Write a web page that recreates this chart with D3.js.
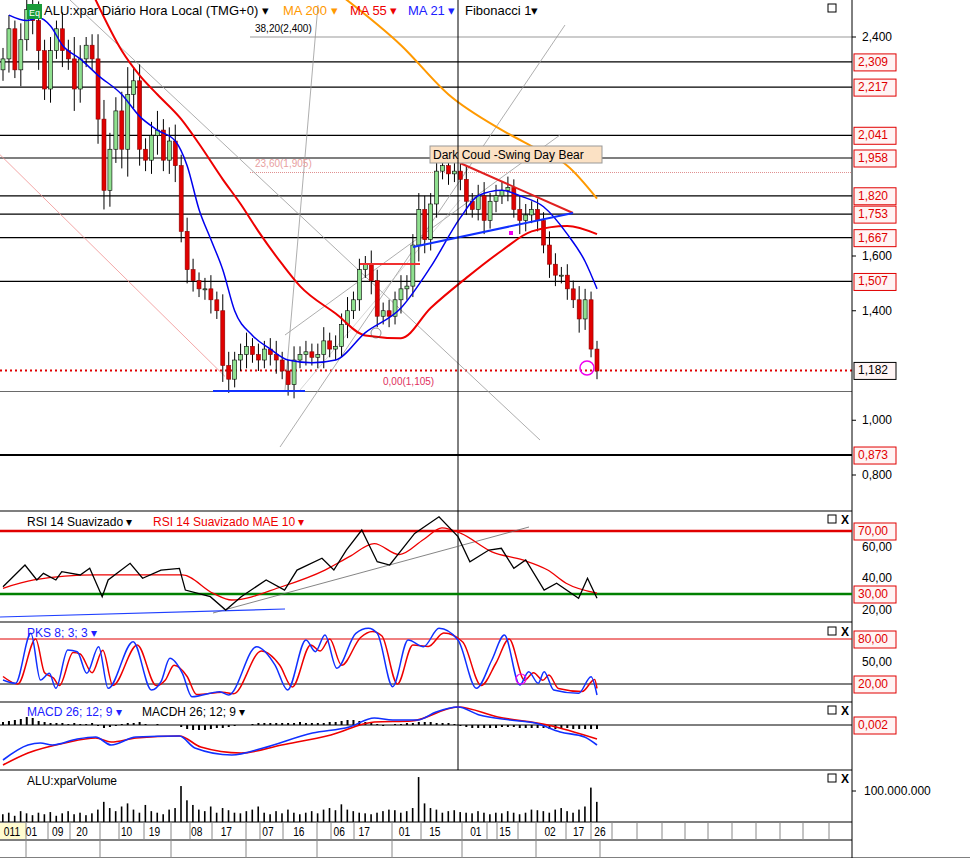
<!DOCTYPE html>
<html><head><meta charset="utf-8">
<script src="https://cdn.jsdelivr.net/npm/d3@7/dist/d3.min.js"></script>
<style>body{margin:0;background:#fff}svg{display:block;font-family:"Liberation Sans",Arial,sans-serif}</style>
</head><body><svg id="c" width="970" height="858"></svg>
<script>
// ---------- DATA ----------
const closes=[2.32,2.43,2.28,2.39,2.50,2.46,2.35,2.21,2.35,2.43,2.35,2.32,2.21,2.32,2.37,2.32,2.10,1.84,1.99,2.13,1.99,2.19,2.24,1.99,1.95,2.04,2.06,1.95,2.02,1.93,1.69,1.55,1.51,1.48,1.48,1.44,1.40,1.20,1.15,1.22,1.24,1.27,1.24,1.22,1.26,1.24,1.22,1.18,1.13,1.22,1.24,1.25,1.23,1.24,1.29,1.26,1.27,1.35,1.40,1.44,1.55,1.57,1.51,1.38,1.40,1.38,1.44,1.48,1.49,1.64,1.77,1.66,1.79,1.91,1.93,1.90,1.91,1.88,1.80,1.77,1.82,1.73,1.80,1.82,1.84,1.85,1.77,1.73,1.75,1.77,1.73,1.64,1.57,1.53,1.53,1.48,1.44,1.37,1.44,1.26,1.18];
const firstOpen=2.28;
const wicks=[0.04,0.05,0.03,0.06,0.04,0.05,0.07,0.04,0.05,0.03,0.06,0.04,0.08,0.05,0.03,0.04,0.09,0.07,0.06,0.05,0.07,0.10,0.05,0.06,0.04,0.05,0.07,0.04,0.05,0.06,0.04,0.05,0.04,0.03,0.04,0.05,0.03,0.06,0.05,0.03,0.04,0.05,0.03,0.04,0.03,0.04,0.05,0.03,0.04,0.05,0.03,0.04,0.03,0.04,0.05,0.03,0.04,0.04,0.05,0.03,0.04,0.03,0.05,0.04,0.03,0.04,0.03,0.05,0.04,0.04,0.06,0.05,0.04,0.05,0.03,0.04,0.03,0.04,0.05,0.03,0.04,0.05,0.03,0.04,0.03,0.04,0.03,0.05,0.04,0.03,0.04,0.03,0.05,0.04,0.03,0.04,0.03,0.05,0.04,0.03,0.03];
const volume=[25,30,20,35,28,22,30,25,32,20,28,35,25,30,22,28,40,65,45,35,50,60,40,30,55,35,30,25,40,45,116,70,55,40,35,50,30,45,38,30,28,35,40,50,30,25,35,28,40,30,25,30,35,28,40,45,38,57,40,35,30,28,25,30,35,40,38,30,35,45,145,60,45,40,30,35,38,32,30,28,35,30,25,30,28,35,30,25,30,40,38,35,30,40,45,35,30,40,50,111,65];
const ma21=[[1,2.48],[4,2.46],[6,2.47],[8,2.44],[10,2.37],[13,2.32],[16,2.26],[20,2.19],[23,2.11],[26,2.06],[29,2.02],[31,1.93],[33,1.77],[35,1.66],[37,1.55],[39,1.40],[42,1.31],[45,1.26],[48,1.22],[52,1.21],[56,1.22],[61,1.32],[67,1.41],[72,1.56],[77,1.74],[80,1.82],[84,1.84],[87,1.82],[91,1.78],[95,1.68],[98,1.58],[100,1.48]];
const ma55=[[15.5,2.54],[20,2.35],[23,2.26],[26,2.19],[30,2.10],[33,2.01],[37,1.88],[40,1.79],[43,1.69],[47,1.57],[50,1.49],[56,1.39],[61,1.31],[67,1.30],[72,1.41],[78,1.52],[84,1.62],[89,1.69],[95,1.71],[100,1.68]];
const ma200=[[57.6,2.54],[67,2.37],[75,2.19],[84,2.06],[90,1.99],[95,1.93],[100,1.81]];
const rsi=[[0,34.6],[3.7,48.4],[5.7,38.9],[6.8,43.1],[8.9,38.9],[9.9,44.2],[13,42.1],[14.6,46.3],[16.7,28.3],[17.7,38.9],[21.4,49.5],[23.5,40],[26.6,45.2],[29.7,46.3],[30.7,32.5],[34.9,28.3],[37.5,19.8],[40.1,28.3],[44.3,38.9],[47.4,32.5],[49.5,45.2],[53.7,52.7],[55.7,45.2],[57.8,57.9],[60.4,70.6],[63,50.5],[65.1,48.4],[69.3,68.5],[73.4,79],[76.6,66.4],[78.6,50.5],[81.8,57.9],[83.9,59],[86,46.3],[88,51.6],[91.1,32.5],[93.2,36.8],[96.9,27.3],[98.4,40],[100,27.3]];
const rsiMa=[[0,33.6],[5.2,38.9],[15.6,42.1],[30.2,42.1],[35.4,30.4],[38.5,26.2],[46.9,34.6],[54.2,45.2],[58.3,53.7],[62.5,62],[66.7,55],[70.8,64.6],[73.9,72],[77.1,68.5],[82.3,56.8],[87.5,51.6],[91.7,45.2],[94.8,36.8],[100,30.5]];
const pksK=[[0,25.3],[2.1,20.9],[4.7,87.6],[6.3,25.3],[7.8,34.2],[8.9,14.2],[10.9,65.3],[12.5,63.1],[14.1,34.2],[16.1,69.8],[17.7,14.2],[21.9,76.4],[25,12],[26.6,23.1],[28.1,54.2],[30.2,34.2],[31.8,3.1],[36.5,9.8],[38,5.3],[42.7,69.8],[45.8,45.3],[47.9,12],[51,78.7],[52.6,63.1],[54.2,85.3],[56.2,40.9],[59.4,87.6],[61.5,94.2],[63,87.6],[65.6,16.4],[68.2,78.7],[70.8,69.8],[73.4,94.2],[76.6,78.7],[79.7,14.2],[82.3,52],[84.4,85.3],[87,18.7],[88.5,36.4],[90.1,20.9],[91.1,36.4],[92.7,12],[96.9,7.6],[99,29.8],[100,5.3]];
const pksD=[[0,30],[2.5,20],[5.5,80],[7,35],[8.5,28],[9.5,18],[11.8,62],[13,60],[15,35],[16.8,65],[18.5,18],[22.6,72],[25.8,18],[27.3,25],[28.8,45],[31,30],[32.6,6],[37,9],[38.8,7],[43.5,64],[46.6,45],[48.7,16],[51.8,72],[53.4,64],[55,80],[57,45],[60.2,82],[62.2,90],[63.8,84],[66.4,20],[69,72],[71.6,70],[74.2,88],[77.4,76],[80.5,18],[83,48],[85.2,80],[87.8,25],[89.3,35],[90.9,25],[91.9,32],[93.5,14],[97.5,10],[99.6,26],[100,14]];
const macd=[[0,-0.035],[4.2,-0.020],[6.3,-0.018],[8.3,-0.020],[12.5,-0.014],[15.6,-0.012],[18.2,-0.020],[22.4,-0.012],[29.7,-0.011],[32.3,-0.023],[38.5,-0.030],[43.8,-0.023],[52.1,-0.008],[58.3,-0.002],[62.5,0.007],[65.6,0.005],[69.8,0.005],[72.9,0.013],[76.6,0.018],[80.2,0.010],[85.4,0.005],[89.6,0.002],[93.8,-0.007],[97.9,-0.012],[100,-0.020]];
const macdSig=[[0,-0.040],[4.2,-0.028],[10.4,-0.018],[15.6,-0.013],[18.2,-0.017],[22.4,-0.013],[29.7,-0.011],[33.3,-0.022],[40.1,-0.028],[46.9,-0.020],[55.2,-0.010],[62.5,0.003],[68.8,0.004],[76.6,0.018],[83.3,0.008],[91.7,0.0],[100,-0.014]];
const macdH=[3,4,5,6,8,7,4,3,2,2,2,1,2,1,1,2,-1,-3,-2,-1,1,2,2,3,1,0,1,0,0,0,-2,-4,-5,-5,-5,-4,-3,-3,-2,-1,0,0,1,2,2,2,2,2,2,2,3,2,2,2,2,3,3,4,5,5,4,3,2,1,-1,0,1,1,2,2,3,3,3,2,2,2,1,-1,-2,-3,-3,-3,-3,-3,-2,-2,-2,-3,-3,-3,-3,-3,-4,-4,-4,-3,-4,-4,-4,-4,-4];
const priceTicks=[2.4,1.6,1.4,1.0,0.8];
const priceLevels=[2.309,2.217,2.041,1.958,1.820,1.753,1.667,1.507];
const dateLabels=[["011",0.6],["01",4.8],["09",9.2],["20",13.3],["10",20.8],["19",25.5],["08",32.6],["17",37.6],["07",44.6],["16",49.8],["06",56.6],["17",60.8],["01",67.6],["15",72.7],["01",79.6],["15",84.5],["02",92.1],["17",96.9],["26",100.5]];
const axisSep1=[26,48,70,100,119,144,171,190,212,246,260,283,317,331,354,392,421,462,487,497,518,536,566,591,612,637,662,685,708,732,756,780,803,829];
const axisSep2=[26,100,171,246,317,392,462,536,600];

// ---------- DRAW ----------
const svg=d3.select("#c");
const RX=852;
const x=d3.scaleLinear().domain([0,100]).range([3,597]);
const y=d3.scaleLinear().domain([0.8,2.4]).range([475,37]);
const fmt=v=>d3.format(".3f")(v).replace(".",",");
const fmt2=v=>d3.format(".2f")(v).replace(".",",");
const defs=svg.append("defs");
defs.append("clipPath").attr("id","cm").append("rect").attr("x",0).attr("y",0).attr("width",RX).attr("height",510);
const main=svg.append("g").attr("clip-path","url(#cm)");
const L=(x1,y1,x2,y2,c,w,g=main)=>g.append("line").attr("x1",x1).attr("y1",y1).attr("x2",x2).attr("y2",y2).attr("stroke",c).attr("stroke-width",w||1);

priceLevels.forEach(p=>L(0,y(p),RX,y(p),"#000",1.2));
L(250,y(2.4),RX,y(2.4),"#999",1);
L(0,y(0.873),RX,y(0.873),"#000",2);
main.append("line").attr("x1",250).attr("x2",RX).attr("y1",y(1.905)).attr("y2",y(1.905)).attr("stroke","#e09090").attr("stroke-dasharray","1,1");
L(0,y(1.105),RX,y(1.105),"#444",0.8);
main.append("line").attr("x1",0).attr("x2",RX).attr("y1",y(1.182)).attr("y2",y(1.182)).attr("stroke","#e00000").attr("stroke-width",2).attr("stroke-dasharray","2,3");
L(458,0,458,770,"#000",1,svg);
L(0,y(1.97),225,y(1.16),"#f09090",0.8);
L(70,0,540,440,"#999",0.8);
L(280,447,565,25,"#999",0.8);
L(285,335,560,135,"#999",0.8);
L(285,390,318,5,"#999",0.8);
L(300,390,460,200,"#bbb",0.6);
const cw=4;
closes.forEach((c,i)=>{
  const o=i?closes[i-1]:firstOpen, up=c>=o, cx=x(i);
  const hi=Math.max(o,c)+wicks[i], lo=Math.min(o,c)-wicks[i];
  L(cx,y(hi),cx,y(lo),"#000",1);
  main.append("rect").attr("x",cx-cw/2).attr("width",cw).attr("y",y(Math.max(o,c))).attr("height",Math.max(1,Math.abs(y(o)-y(c))))
   .attr("fill",up?"#8fe08f":"#e00000").attr("stroke",up?"#000":"#800").attr("stroke-width",0.6);
});
const ln=(data,xs,ys,c,w,g,cv)=>g.append("path").datum(data).attr("d",d3.line().x(d=>xs(d[0])).y(d=>ys(d[1])).curve(cv||d3.curveMonotoneX)).attr("fill","none").attr("stroke",c).attr("stroke-width",w);
ln(ma200,x,y,"#ff9900",2,main);
ln(ma55,x,y,"#ee0000",2,main);
ln(ma21,x,y,"#0000ee",1.5,main);
L(360,264,420,264,"#f03030",2);
L(460,163,573,213,"#e02020",2);
L(413,247,573,213,"#1030ff",2);
L(213,391,305,391,"#1030ff",2);
main.append("circle").attr("cx",587).attr("cy",368).attr("r",7).attr("fill","none").attr("stroke","#ee00ee").attr("stroke-width",1.5);
main.append("circle").attr("cx",376).attr("cy",333).attr("r",5).attr("fill","none").attr("stroke","#444").attr("stroke-width",0.6);
main.append("rect").attr("x",509).attr("y",231).attr("width",4).attr("height",4).attr("fill","#ee00ee");
main.append("text").attr("x",255).attr("y",32).attr("font-size",10).text("38,20(2,400)");
main.append("text").attr("x",255).attr("y",167).attr("font-size",10).attr("fill","#e8a0a0").text("23,60(1,905)");
main.append("text").attr("x",383).attr("y",385).attr("font-size",10).attr("fill","#e03060").text("0,00(1,105)");
main.append("rect").attr("x",430).attr("y",146).attr("width",172).attr("height",17).attr("fill","#fbe1c4").attr("stroke","#999");
main.append("text").attr("x",433).attr("y",159).attr("font-size",12).text("Dark Coud -Swing Day Bear");
svg.append("rect").attr("x",27).attr("y",4).attr("width",15).attr("height",15).attr("fill","#1a9c3a");
svg.append("text").attr("x",29).attr("y",16).attr("font-size",9).attr("fill","#fff").text("Eq");
const hdr=[["ALU:xpar Diário Hora Local (TMG+0)  ▾",44,"#000"],["MA 200 ▾",283,"#ff9900"],["MA 55 ▾",350,"#ee0000"],["MA 21 ▾",408,"#2020ff"],["Fibonacci 1▾",465,"#000"]];
hdr.forEach(h=>svg.append("text").attr("x",h[1]).attr("y",15).attr("font-size",13).attr("fill",h[2]).text(h[0]));

[511,622,702,770,822,840].forEach(v=>L(0,v,RX,v,"#000",1.2,svg));
L(RX,0,RX,858,"#000",1,svg);
L(0,858,970,858,"#000",1,svg);
const box=(t,yy,col,g=svg)=>{g.append("rect").attr("x",854).attr("y",yy-8).attr("width",42).attr("height",17).attr("fill","#fff4f4").attr("stroke",col);
  g.append("text").attr("x",858).attr("y",yy+4).attr("font-size",12).attr("fill",col).text(t);};
priceTicks.forEach(p=>{L(RX,y(p),RX+4,y(p),"#000",1,svg);svg.append("text").attr("x",862).attr("y",y(p)+4).attr("font-size",12).text(fmt(p));});
priceLevels.forEach(p=>box(fmt(p),y(p),"#e00000"));
box(fmt(0.873),y(0.873),"#e00000");
box(fmt(1.182),y(1.182),"#000");
const icons=(yy,x2)=>{svg.append("rect").attr("x",828).attr("y",yy-5).attr("width",8).attr("height",8).attr("fill","none").attr("stroke","#000");
  if(x2)svg.append("text").attr("x",841).attr("y",yy+4).attr("font-size",12).attr("font-weight","bold").text("X");};
icons(9,false);icons(520,true);icons(632,true);icons(711,true);icons(779,true);

const yr=d3.scaleLinear().domain([30,70]).range([594,531]);
L(0,yr(70),RX,yr(70),"#e00000",2.5,svg);
L(0,yr(30),RX,yr(30),"#008000",2.5,svg);
L(213,613,529,527,"#666",0.8,svg);
L(0,617,285,609,"#2040ff",1.2,svg);
ln(rsiMa,x,yr,"#ee0000",1.3,svg);
ln(rsi,x,yr,"#000",1.3,svg,d3.curveLinear);
[60,40,20].forEach(v=>svg.append("text").attr("x",862).attr("y",yr(v)+4).attr("font-size",12).text(fmt2(v)));
box(fmt2(70),yr(70),"#e00000");box(fmt2(30),yr(30),"#e00000");
svg.append("text").attr("x",27).attr("y",526).attr("font-size",12).text("RSI 14 Suavizado ▾");
svg.append("text").attr("x",153).attr("y",526).attr("font-size",12).attr("fill","#ee0000").text("RSI 14 Suavizado MAE 10 ▾");

const yp=d3.scaleLinear().domain([20,80]).range([684,639]);
L(0,yp(80),RX,yp(80),"#e00000",1,svg);
L(0,yp(20),RX,yp(20),"#000",1,svg);
ln(pksD,x,yp,"#ee0000",1.5,svg);
ln(pksK,x,yp,"#1030ff",1.5,svg);
svg.append("circle").attr("cx",521).attr("cy",679).attr("r",5).attr("fill","none").attr("stroke","#ee00ee").attr("stroke-width",1.2);
svg.append("text").attr("x",862).attr("y",yp(50)+4).attr("font-size",12).text("50,00");
box(fmt2(80),yp(80),"#e00000");box(fmt2(20),yp(20),"#e00000");
svg.append("text").attr("x",27).attr("y",637).attr("font-size",12).attr("fill","#2020ff").text("PKS 8; 3; 3 ▾");

const ym=d3.scaleLinear().domain([0,0.02]).range([725,705]);
L(0,725,RX,725,"#000",1,svg);
macdH.forEach((h,i)=>svg.append("rect").attr("x",x(i)-1).attr("width",2).attr("y",Math.min(ym(0),ym(h/1000))).attr("height",Math.abs(ym(h/1000)-ym(0))).attr("fill","#000"));
ln(macdSig,x,ym,"#ee0000",1.6,svg);
ln(macd,x,ym,"#1030ff",1.6,svg);
box("0,002",725,"#e00000");
svg.append("text").attr("x",27).attr("y",716).attr("font-size",12).attr("fill","#2020ff").text("MACD 26; 12; 9 ▾");
svg.append("text").attr("x",142).attr("y",716).attr("font-size",12).text("MACDH 26; 12; 9 ▾");

const yv=d3.scaleLinear().domain([0,100]).range([822,791]);
volume.forEach((v,i)=>svg.append("rect").attr("x",x(i)-1).attr("width",1.6).attr("y",yv(v)).attr("height",yv(0)-yv(v)).attr("fill","#000"));
L(RX,791,RX+4,791,"#000",1,svg);
svg.append("text").attr("x",864).attr("y",795).attr("font-size",12).text("100.000.000");
svg.append("text").attr("x",27).attr("y",785).attr("font-size",12).text("ALU:xparVolume");

svg.append("rect").attr("x",0).attr("y",823).attr("width",26).attr("height",16).attr("fill","#fffbd0");
axisSep1.forEach(v=>L(v,822,v,840,"#888",1,svg));
axisSep2.forEach(v=>L(v,840,v,858,"#888",1,svg));
dateLabels.forEach(d=>{const px=Math.max(x(d[1]),12);svg.append("text").attr("x",px).attr("y",836).attr("font-size",12).attr("text-anchor","middle").attr("transform",`translate(${px},0) scale(0.85,1) translate(${-px},0)`).text(d[0]);});
</script></body></html>
